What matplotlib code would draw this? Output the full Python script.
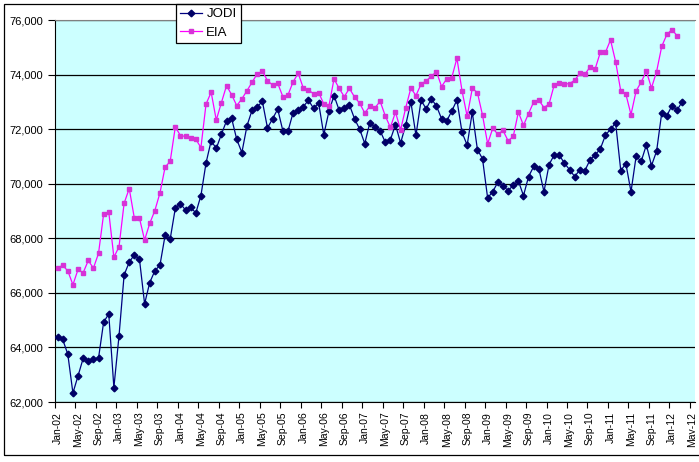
#!/usr/bin/env python3
"""JODI vs EIA monthly series, Jan-02 to May-12."""

import matplotlib
matplotlib.use("Agg")
import matplotlib.pyplot as plt
from matplotlib.patches import Rectangle
from matplotlib.ticker import FixedLocator, StrMethodFormatter
from matplotlib.transforms import Bbox


MONTHS = ["Jan", "Feb", "Mar", "Apr", "May", "Jun",
          "Jul", "Aug", "Sep", "Oct", "Nov", "Dec"]
categories = [f"{m}-{y:02d}" for y in range(2, 13) for m in MONTHS][:125]

jodi = [
    64390, 64300, 63750, 62330, 62960, 63600, 63510, 63580, 63610, 64930,
    65230, 62530, 64420, 66660, 67130, 67400, 67230, 65600, 66380, 66810,
    67020, 68110, 67980, 69110, 69270, 69040, 69150, 68930, 69570, 70770,
    71580, 71300, 71820, 72310, 72400, 71630, 71150, 72130, 72710, 72820,
    73030, 72050, 72390, 72740, 71950, 71930, 72610, 72720, 72830, 73070,
    72770, 72960, 71800, 72660, 73240, 72700, 72770, 72900, 72390, 72010,
    71480, 72250, 72070, 71950, 71530, 71620, 72170, 71500, 72160, 73010,
    71780, 73070, 72750, 73120, 72860, 72390, 72310, 72670, 73080, 71890,
    71420, 72630, 71260, 70920, 69480, 69720, 70060, 69930, 69750, 69950,
    70110, 69570, 70270, 70640, 70560, 69710, 70710, 71060, 71050, 70760,
    70520, 70270, 70510, 70490, 70880, 71060, 71280, 71780, 72010, 72230,
    70490, 70740, 69710, 71010, 70830, 71430, 70670, 71200, 72600, 72500,
    72870, 72710, 73010,
]

eia = [
    66920, 67010, 66810, 66300, 66860, 66740, 67190, 66910, 67450, 68900,
    68970, 67310, 67690, 69290, 69830, 68740, 68740, 67940, 68550, 69020,
    69670, 70610, 70830, 72090, 71770, 71740, 71690, 71640, 71330, 72930,
    73360, 72340, 72980, 73600, 73270, 72870, 73120, 73420, 73730, 74040,
    74130, 73790, 73620, 73690, 73200, 73260, 73740, 74060, 73510, 73450,
    73300, 73350, 72930, 72860, 73850, 73500, 73200, 73500, 73190, 72960,
    72600, 72850, 72790, 73030, 72500, 72070, 72630, 71980, 72790, 73510,
    73240, 73660, 73780, 73940, 74120, 73570, 73850, 73900, 74610, 73410,
    72480, 73500, 73350, 72520, 71470, 72040, 71820, 71960, 71580, 71740,
    72630, 72150, 72580, 73010, 73070, 72800, 72930, 73630, 73700, 73660,
    73680, 73800, 74050, 74020, 74290, 74220, 74820, 74820, 75280, 74480,
    73410, 73290, 72540, 73410, 73740, 74130, 73520, 74120, 75040, 75480,
    75660, 75430,
]

plt.rcParams["font.family"] = ["Liberation Sans", "DejaVu Sans"]

W, H = 699, 462
fig = plt.figure(figsize=(W / 100, H / 100), dpi=100)
ax = fig.add_axes([55 / W, 1 - 402 / H, 640 / W, (402 - 20.3) / H])
ax.set_facecolor("#CCFFFF")

ax.plot(range(len(jodi)), jodi, color="#000080", lw=0.9, marker="D",
        ms=3.4, mfc="#000066", mec="#000066", label="JODI", zorder=3)
ax.plot(range(len(eia)), eia, color="#FF00FF", lw=0.9, marker="s",
        ms=3.4, mfc="#D633D6", mec="#D633D6", label="EIA", zorder=3)

ax.set_xlim(-0.5, len(categories) - 0.5)
ax.set_ylim(62000, 76000)

# labels centred on every 4th category, tick marks at the group boundaries
ax.xaxis.set_major_locator(FixedLocator(range(0, len(categories), 4)))
ax.set_xticklabels(categories[::4], rotation=90, fontsize=7.5)
ax.xaxis.set_minor_locator(FixedLocator([i - 0.5 for i in range(0, len(categories), 4)]))
ax.tick_params(axis="x", which="major", length=0, pad=7)
ax.tick_params(axis="x", which="minor", length=4, width=0.8, direction="out")

ax.yaxis.set_major_locator(FixedLocator(range(62000, 76001, 2000)))
ax.yaxis.set_major_formatter(StrMethodFormatter("{x:,.0f}"))
ax.tick_params(axis="y", length=5, width=0.8, direction="out", pad=3.5, labelsize=8)

ax.grid(axis="y", color="black", lw=0.9)
ax.set_axisbelow(True)

ax.spines["left"].set_color("black")
ax.spines["bottom"].set_color("black")
ax.spines["top"].set_color("#808080")
ax.spines["right"].set_visible(False)

# the source image is cropped just past the plot area, cutting the last label
last = ax.get_xticklabels()[-1]
last.set_clip_box(Bbox([[0, 0], [695, H]]))
last.set_clip_on(True)

leg = ax.legend(loc="upper left", bbox_to_anchor=(176 / W, 1 - 4 / H),
                bbox_transform=fig.transFigure, frameon=True, fancybox=False,
                edgecolor="black", framealpha=1, fontsize=9.5, numpoints=1,
                handlelength=1.7, handletextpad=0.3, labelspacing=0.5,
                borderpad=0.3, borderaxespad=0)
leg.get_frame().set_linewidth(0.9)

# outer chart border (right side falls outside the cropped image)
fig.patches.append(Rectangle((4.3 / W, 1 - 455 / H), 800 / W, (455 - 4.3) / H,
                             transform=fig.transFigure, fill=False,
                             edgecolor="black", lw=0.9))

fig.savefig("out.png", dpi=100)
plt.close(fig)
